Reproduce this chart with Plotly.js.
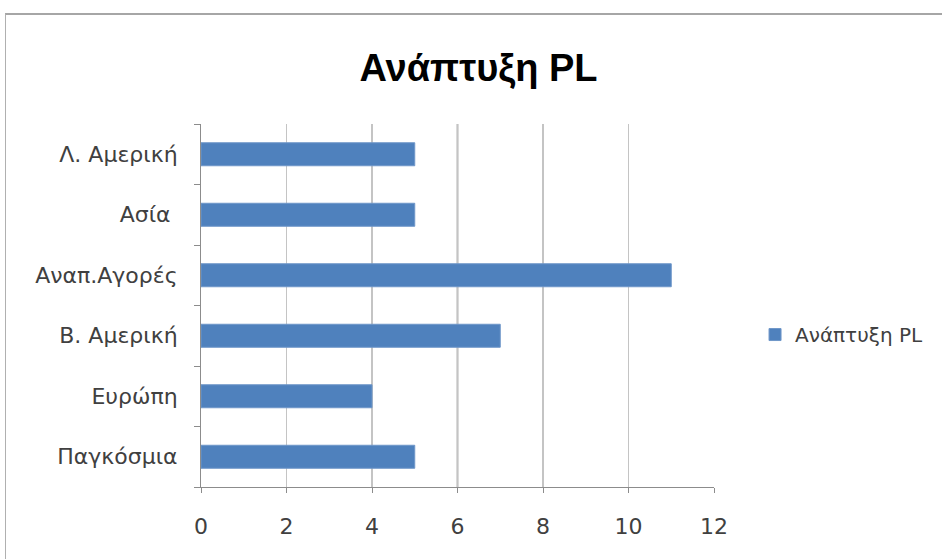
<!DOCTYPE html>
<html>
<head>
<meta charset="utf-8">
<script src="https://cdn.plot.ly/plotly-3.0.1.min.js"></script>
<style>
  html, body { margin: 0; padding: 0; background: #fff; }
  #frame { position: absolute; left: 5px; top: 13px; width: 937px; height: 546px;
           border-top: 2px solid #a6a6a6; border-left: 1px solid #b0b0b0; }
  #chart { position: absolute; left: 0; top: 0; width: 942px; height: 559px; }
</style>
</head>
<body>
<div id="frame"></div>
<div id="chart"></div>
<script>
// Growth per region (bottom to top as drawn)
const regions = ['Παγκόσμια', 'Ευρώπη', 'Β. Αμερική', 'Αναπ.Αγορές', 'Ασία ', 'Λ. Αμερική'];
const growth = [5, 4, 7, 11, 5, 5];
const seriesName = 'Ανάπτυξη PL';
const xTicks = [0, 2, 4, 6, 8, 10, 12];

const labelFont = { family: 'DejaVu Sans, Verdana, sans-serif', size: 22, color: '#404040' };

const trace = {
  type: 'bar',
  orientation: 'h',
  y: regions,
  x: growth,
  name: seriesName,
  marker: { color: '#4F81BD', line: { color: '#6f97c9', width: 1 } },
  hoverinfo: 'x+y'
};

const layout = {
  width: 942,
  height: 559,
  paper_bgcolor: 'rgba(0,0,0,0)',
  plot_bgcolor: 'rgba(0,0,0,0)',
  margin: { l: 201, r: 228, t: 124, b: 72 },
  bargap: 0.62,
  showlegend: true,
  title: {
    text: '<b>Ανάπτυξη PL</b>',
    font: { family: 'Liberation Sans, Arial, sans-serif', size: 38, color: '#000' },
    x: 0.508, xref: 'container', xanchor: 'center',
    y: 0.878, yref: 'container', yanchor: 'middle'
  },
  xaxis: {
    range: [0, 12],
    tickvals: xTicks,
    ticktext: xTicks.map(String),
    showgrid: true,
    gridcolor: '#c4c4c4',
    gridwidth: 1.5,
    zeroline: false,
    showline: true,
    linecolor: '#8c8c8c',
    linewidth: 1,
    ticks: 'outside',
    ticklen: 5,
    tickcolor: '#8c8c8c',
    tickfont: labelFont,
    ticklabelstandoff: 15,
    fixedrange: true
  },
  yaxis: {
    type: 'category',
    range: [-0.5, regions.length - 0.5],
    showgrid: false,
    showline: true,
    linecolor: '#8c8c8c',
    linewidth: 1,
    ticks: 'outside',
    tickson: 'boundaries',
    ticklen: 6,
    tickcolor: '#8c8c8c',
    tickfont: labelFont,
    ticklabelstandoff: 18,
    fixedrange: true
  },
  legend: {
    x: 1.08, xref: 'paper', xanchor: 'left',
    y: 0.42, yanchor: 'middle',
    font: { family: labelFont.family, size: 20, color: labelFont.color },
    itemwidth: 30,
    bgcolor: 'rgba(0,0,0,0)'
  },
  shapes: [{
    // emphasised vertical gridline at 6
    type: 'line', xref: 'x', yref: 'paper',
    x0: 6, x1: 6, y0: 0, y1: 1,
    line: { color: '#6e6e6e', width: 1.5 },
    layer: 'below'
  }]
};

Plotly.newPlot('chart', [trace], layout, { displayModeBar: false, staticPlot: true });
</script>
</body>
</html>
